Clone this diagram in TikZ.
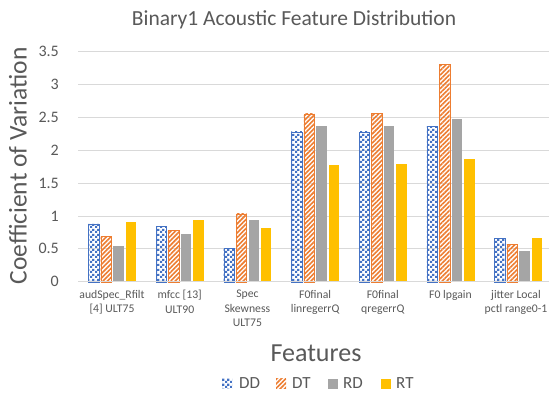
\documentclass[tikz,border=0pt]{standalone}
\usepackage{fontspec}
\setmainfont{Carlito}
\usetikzlibrary{patterns,patterns.meta}
\definecolor{txt}{HTML}{595959}
\definecolor{gridc}{HTML}{D9D9D9}
\definecolor{cDD}{HTML}{4472C4}
\definecolor{cDT}{HTML}{ED7D31}
\definecolor{cRD}{HTML}{A5A5A5}
\definecolor{cRT}{HTML}{FFC000}
\pgfdeclarepatternformonly{finechecker}{\pgfpointorigin}{\pgfqpoint{5pt}{5pt}}{\pgfqpoint{5pt}{5pt}}{%
  \pgfpathrectangle{\pgfpointorigin}{\pgfqpoint{2.5pt}{2.5pt}}%
  \pgfpathrectangle{\pgfqpoint{2.5pt}{2.5pt}}{\pgfqpoint{2.5pt}{2.5pt}}%
  \pgfusepath{fill}}
\tikzset{
  barDD/.style={pattern=finechecker,pattern color=cDD,draw=cDD,line width=0.3pt},
  barDT/.style={pattern={Lines[angle=45,distance=3.2pt,line width=1.6pt]},pattern color=cDT,draw=cDT,line width=0.3pt},
  barRD/.style={fill=cRD},
  barRT/.style={fill=cRT},
  gridline/.style={draw=gridc,line width=0.75pt},
  ticklab/.style={anchor=east,text=txt,font=\fontsize{16}{18}\selectfont,inner sep=0pt},
  catlab/.style={anchor=north,text=txt,align=center,font=\fontsize{11.7}{14.5}\selectfont,inner sep=0pt},
  leglab/.style={anchor=west,text=txt,font=\fontsize{17}{19}\selectfont,inner sep=0pt},
}
\begin{document}
\begin{tikzpicture}[x=1pt,y=-1pt]
\useasboundingbox (0,0) rectangle (550,393);
\fill[white] (0,0) rectangle (550,393);
% title
\node[text=txt,font=\fontsize{21.5}{24}\selectfont] (title) at (294,20) {Binary1 Acoustic Feature Distribution};
% grid lines
\foreach \v in {0.5,1.0,1.5,2.0,2.5,3.0,3.5} {
  \draw[gridline] (78,{281.7-65.8*\v}) -- (549,{281.7-65.8*\v});
}
% tick labels
\foreach \v/\t [count=\k] in {0/0,0.5/0.5,1/1,1.5/1.5,2/2,2.5/2.5,3/3,3.5/3.5} {
  \node[ticklab] (tick\k) at (59,{281.7-65.8*\v}) {\t};
}
% bars
\foreach \i/\a/\b/\c/\d in {0/0.88/0.69/0.55/0.90, 1/0.84/0.78/0.73/0.94, 2/0.51/1.03/0.94/0.82, 3/2.28/2.55/2.36/1.78, 4/2.28/2.56/2.36/1.79, 5/2.36/3.30/2.48/1.86, 6/0.66/0.57/0.46/0.66} {
  \pgfmathsetmacro\cx{112+67.7*\i}
  \path[barDD] ({\cx-23.7},281.7) rectangle ({\cx-13.2},{281.7-65.8*\a});
  \path[barDT] ({\cx-11.3},281.7) rectangle ({\cx-0.8},{281.7-65.8*\b});
  \path[barRD] ({\cx+1.1},281.7) rectangle ({\cx+11.6},{281.7-65.8*\c});
  \path[barRT] ({\cx+13.5},281.7) rectangle ({\cx+24},{281.7-65.8*\d});
}
% axis line
\draw[gridline] (78,281.7) -- (549,281.7);
% category labels
\node[catlab] (cat1) at (112,290) {audSpec\_Rfilt\\{[4]} ULT75};
\node[catlab] (cat2) at (179.7,290) {mfcc [13]\\ULT90};
\node[catlab] (cat3) at (247.4,290) {Spec\\Skewness\\ULT75};
\node[catlab] (cat4) at (315.1,290) {F0final\\linregerrQ};
\node[catlab] (cat5) at (382.8,290) {F0final\\qregerrQ};
\node[catlab] (cat6) at (450.5,290) {F0 lpgain};
\node[catlab] (cat7) at (516,290) {jitter Local\\pctl range0-1};
% axis titles
\node[rotate=90,text=txt,font=\fontsize{25.5}{28}\selectfont] (ylab) at (18,166) {Coefficient of Variation};
\node[text=txt,font=\fontsize{26}{30}\selectfont] (xlab) at (316,353) {Features};
% legend
\path[barDD,draw=none] (222,379) rectangle (232,389);
\node[leglab] (legDD) at (239,383.5) {DD};
\path[barDT,draw=none] (276,379) rectangle (286,389);
\node[leglab] (legDT) at (292,383.5) {DT};
\path[barRD] (328,379) rectangle (338,389);
\node[leglab] (legRD) at (343,383.5) {RD};
\path[barRT] (381,379) rectangle (391,389);
\node[leglab] (legRT) at (396,383.5) {RT};
\end{tikzpicture}
\end{document}
